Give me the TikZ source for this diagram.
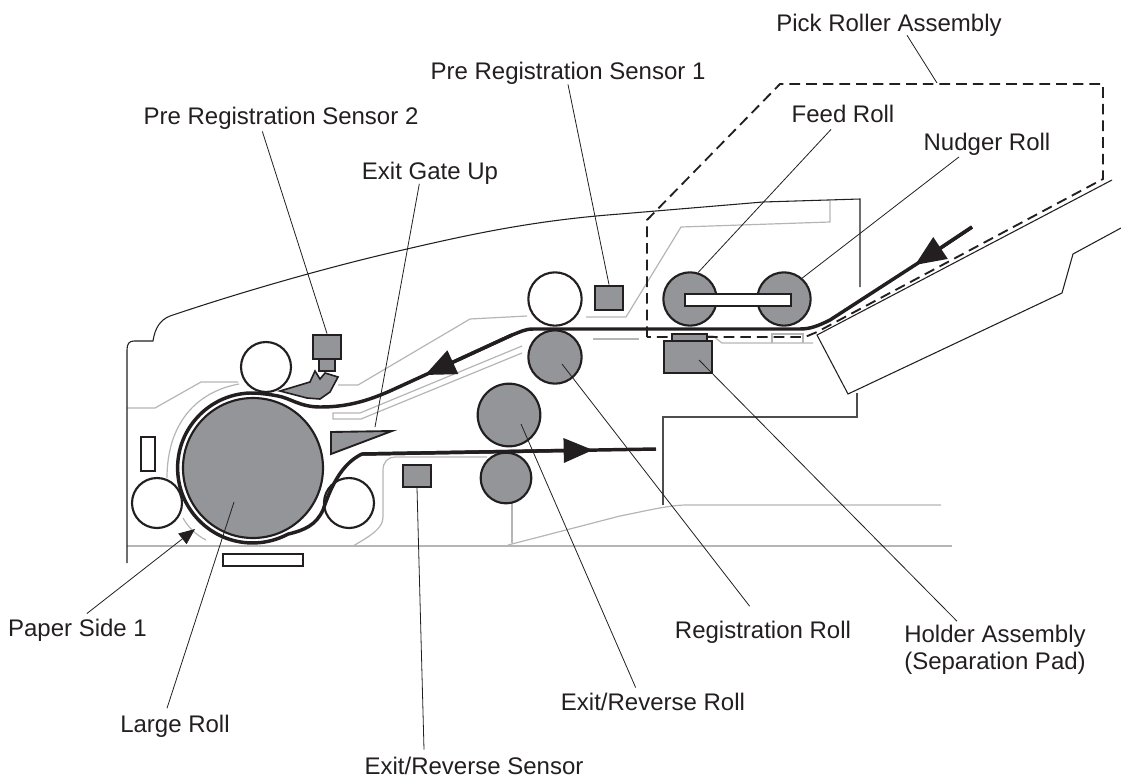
\documentclass[tikz,border=0pt]{standalone}
\usepackage{fontspec}
\setmainfont{Liberation Sans}
\usetikzlibrary{arrows.meta}
\definecolor{rollgray}{HTML}{939598}
\definecolor{inkblack}{HTML}{231F20}
\definecolor{guidegray}{HTML}{B5B5B5}
\definecolor{framegray}{HTML}{4D4D4D}
\tikzset{
  labelfont/.style={font=\fontsize{18}{20}\selectfont, text=inkblack, inner sep=1pt},
  partlabel/.style={labelfont, text height=13pt, text depth=4pt},
  greyroll/.style={circle, draw=inkblack, fill=rollgray, line width=1.6pt, inner sep=0pt},
  whiteroll/.style={circle, draw=inkblack, fill=white, line width=1.6pt, inner sep=0pt},
  greybox/.style={rectangle, draw=inkblack, fill=rollgray, line width=1.6pt, inner sep=0pt},
  whitebox/.style={rectangle, draw=inkblack, fill=white, line width=1.6pt, inner sep=0pt},
  housing/.style={draw=inkblack, line width=0.8pt},
  framing/.style={draw=framegray, line width=1pt},
  guide/.style={draw=guidegray, line width=0.9pt},
  paper/.style={draw=inkblack, line width=2.6pt},
  leader/.style={draw=inkblack, line width=0.6pt},
  pickdash/.style={draw=inkblack, line width=1.4pt, dash pattern=on 8pt off 4.5pt}
}
\begin{document}
\begin{tikzpicture}[x=0.75pt,y=-0.75pt]
    \useasboundingbox (0,0) rectangle (1121,779);
    % guide lines
    \draw[guide] (127,408) -- (155,408) -- (201,382) -- (238,382);
    \draw[guide] (239,384) .. controls (195,392) and (167,425) .. (167,478);
    \draw[guide] (183,518) .. controls (188,527) and (196,535) .. (206,540);
    \draw[guide] (127,546) -- (952,546);
    \draw[guide] (338,385) -- (358,385) -- (470,319) -- (527,316);
    \draw[guide] (522,346) -- (360,413) -- (333,413) -- (333,419) -- (361,419) -- (522,353);
    \draw[guide] (353,546) .. controls (372,535) and (383,528) .. (383,517) -- (383,470) .. controls (383,462) and (388,457) .. (395,457) -- (487,457);
    \draw[guide] (512,503) -- (512,543);
    \draw[guide] (508,545) -- (620,516) .. controls (650,510) and (670,505) .. (687,505) -- (941,505);
    \draw[guide] (586,317) -- (626,317) -- (681,227) -- (830,222) -- (830,200);
    \draw[guide] (593,339) -- (639,339);
    \draw[guide] (706,336) -- (713,336) -- (722,343) -- (813,343);
    \draw[guide] (772,343) -- (772,334) -- (803,334) -- (803,343);
    % housing
    \draw[housing] (127,563) -- (127,350) .. controls (127,344) and (129,341) .. (134,341) -- (153,341) .. controls (155,328) and (160,320) .. (170,316) .. controls (250,289) and (340,264) .. (407,249) .. controls (480,232) and (540,220) .. (620,214) -- (763,202) -- (860,199) -- (860,287);
    \draw[housing] (1112,180) -- (817,335) -- (848,394) -- (1062,293) -- (1073,254) -- (1121,228);
    \draw[framing] (857,393) -- (857,417) -- (663,417) -- (663,505);
    % pick roller assembly outline
    \draw[pickdash] (647,337) -- (647,220) -- (780,84) -- (1103,84) -- (1103,179) -- (817,332) -- (805,337) -- cycle;
    % rolls
    \node[whiteroll, minimum size=37.5pt] (toproll) at (266,367) {};
    \node[whiteroll, minimum size=37.5pt] (leftroll) at (157,503) {};
    \node[whiteroll, minimum size=37.5pt] (rightroll) at (349,503) {};
    \node[greyroll, minimum size=105pt] (largeroll) at (253,468) {};
    \node[whiteroll, minimum size=40pt] (upperregroll) at (555,299) {};
    \node[greyroll, minimum size=40pt] (regroll) at (555,357) {};
    \node[greyroll, minimum size=47pt] (exitroll) at (509,415) {};
    \node[greyroll, minimum size=38pt] (lowerexitroll) at (506,478) {};
    \node[greyroll, minimum size=40pt] (feedroll) at (690,299) {};
    \node[greyroll, minimum size=40pt] (nudgerroll) at (784,299) {};
    \node[whitebox, minimum width=80pt, minimum height=9.5pt] (rollbar) at (738,300) {};
    % sensors and small parts
    \node[greybox, minimum width=20.5pt, minimum height=18.5pt] (presensor1) at (609,298) {};
    \node[greybox, minimum width=12pt, minimum height=9pt] (presensorstem) at (327,365) {};
    \node[greybox, minimum width=21pt, minimum height=18.5pt] (presensor2) at (327,347) {};
    \node[greybox, minimum width=21pt, minimum height=16pt] (exitsensor) at (417,476) {};
    \node[greybox, minimum width=26pt, minimum height=5pt] (holdertop) at (689.5,337.5) {};
    \node[greybox, minimum width=36pt, minimum height=24pt] (holder) at (688,357) {};
    \node[whitebox, minimum width=10pt, minimum height=25.5pt] (leftslot) at (148,454) {};
    \node[whitebox, minimum width=59.5pt, minimum height=9pt] (bottomslot) at (263,560) {};
    \draw[draw=inkblack, fill=rollgray, line width=1.2pt] (280,391) -- (310,382) -- (315,371) -- (320,379) -- (325,373) -- (338,377) -- (330,392) -- (320,399) -- (307,398) -- cycle;
    \draw[draw=inkblack, fill=rollgray, line width=1.4pt] (331,432) -- (392,431) -- (331,454) -- cycle;
    % paper path
    \coordinate (paperin) at (972,227);
    \coordinate (paperintip) at (915,265);
    \coordinate (paperslope) at (512,335);
    \coordinate (papertip) at (425,375);
    \coordinate (exitstart) at (362,454);
    \coordinate (exittip) at (593,450);
    \coordinate (exitend) at (656,449);
    \draw[paper, line join=round] (paperin) -- (paperintip) -- (830,320) .. controls (818,326) and (810,329) .. (800,329) -- (533,329) .. controls (525,329) and (520,332) .. (paperslope) -- (papertip) -- (390,391) .. controls (365,402) and (345,407) .. (320,407) .. controls (300,407) and (290,398) .. (278,396) .. controls (268,394) and (258,393) .. (250,393) arc[start angle=268,end angle=62,radius=75] .. controls (305,530) and (316,525) .. (323,510) .. controls (333,480) and (345,462) .. (exitstart) -- (exitend);
    \draw[paper, -{Triangle[length=23pt,width=19pt]}] (paperin) -- (paperintip);
    \draw[paper, -{Triangle[length=23pt,width=19pt]}] (paperslope) -- (papertip);
    \draw[paper, -{Triangle[length=22pt,width=18pt]}] (exitstart) -- (exittip);
    % labels
    \node[partlabel] (picklabel) at (889,25) {Pick Roller Assembly};
    \node[partlabel] (pre1label) at (568,73.5) {Pre Registration Sensor 1};
    \node[partlabel] (feedlabel) at (843,116.5) {Feed Roll};
    \node[partlabel] (nudgerlabel) at (987,144) {Nudger Roll};
    \node[partlabel] (pre2label) at (281,118.5) {Pre Registration Sensor 2};
    \node[partlabel] (gatelabel) at (430,173.5) {Exit Gate Up};
    \node[partlabel] (paperlabel) at (77.5,630.5) {Paper Side 1};
    \node[partlabel] (largelabel) at (175,726.5) {Large Roll};
    \node[partlabel] (reglabel) at (763,632.5) {Registration Roll};
    \node[labelfont, align=left] (holderlabel) at (995,650) {Holder Assembly\\(Separation Pad)};
    \node[partlabel] (exitrolllabel) at (653,704.5) {Exit/Reverse Roll};
    \node[partlabel] (exitsensorlabel) at (474,768.5) {Exit/Reverse Sensor};
    % leader lines
    \coordinate (pickend) at (937,83);
    \coordinate (gateend) at (375,427);
    \coordinate (sideend) at (195,529);
    \coordinate (largeend) at (234,502);
    \coordinate (regend) at (562,364);
    \coordinate (holderend) at (699,360);
    \coordinate (exitrollend) at (521,424);
    \draw[leader] ([shift={(13.5pt,2pt)}]picklabel.south) -- (pickend);
    \draw[leader] ([yshift=1.5pt]pre1label.south) -- (presensor1.north);
    \draw[leader] ([xshift=-9pt]feedlabel.south) -- (feedroll.73);
    \draw[leader] ([xshift=-21pt]nudgerlabel.south) -- (nudgerroll.49);
    \draw[leader] ([xshift=-14pt]pre2label.south) -- (presensor2.north);
    \draw[leader] ([shift={(-8pt,2pt)}]gatelabel.south) -- (gateend);
    \draw[leader, -{Triangle[length=12pt,width=10pt]}] ([shift={(7pt,3pt)}]paperlabel.north) -- (sideend);
    \draw[leader] ([shift={(-6pt,4pt)}]largelabel.north) -- (largeend);
    \draw[leader] ([shift={(-10pt,10pt)}]reglabel.north) -- (regend);
    \draw[leader] ([shift={(-28.5pt,2pt)}]holderlabel.north) -- (holderend);
    \draw[leader] ([shift={(-13pt,3pt)}]exitrolllabel.north) -- (exitrollend);
    \draw[leader] ([shift={(-37.5pt,4.5pt)}]exitsensorlabel.north) -- (exitsensor.south);
\end{tikzpicture}
\end{document}
